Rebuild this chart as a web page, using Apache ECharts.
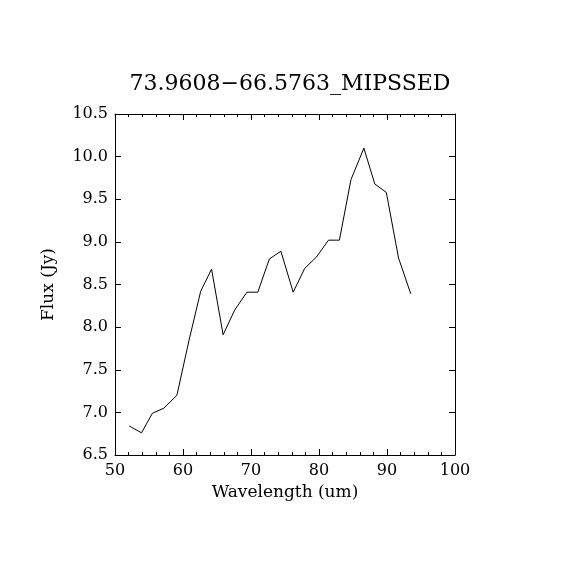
<!DOCTYPE html>
<html><head><meta charset="utf-8">
<script src="https://cdn.jsdelivr.net/npm/echarts@6/dist/echarts.min.js"></script>
<style>html,body{margin:0;padding:0;background:#fff}#c{width:570px;height:570px}</style>
</head><body><div id="c"></div>
<script>
var titleText = '73.9608\u221266.5763_MIPSSED';
var wavelength = [52.1, 53.9, 55.5, 57.2, 59.1, 60.9, 62.6, 64.2, 65.9, 67.6, 69.4, 71.0, 72.7, 74.4, 76.2, 77.9, 79.6, 81.4, 83.0, 84.7, 86.6, 88.2, 89.9, 91.7, 93.5];
var flux = [6.84, 6.76, 6.99, 7.05, 7.20, 7.85, 8.42, 8.68, 7.91, 8.20, 8.41, 8.41, 8.80, 8.89, 8.41, 8.69, 8.82, 9.02, 9.02, 9.73, 10.10, 9.68, 9.58, 8.81, 8.39];

var font = 'DejaVu Serif';
var chart = echarts.init(document.getElementById('c'), null, {renderer: 'canvas'});
var axLine = {show: true, lineStyle: {color: '#000', width: 1}};
function xAx(pos, showLabel) {
  return {
    type: 'value', position: pos, min: 50, max: 100, interval: 10,
    axisLine: axLine,
    axisTick: {show: true, inside: true, length: 6, lineStyle: {color: '#000'}},
    minorTick: {show: true, splitNumber: 5, length: 3, lineStyle: {color: '#000'}},
    splitLine: {show: false},
    axisLabel: {show: showLabel, color: '#000', fontFamily: font, fontSize: 16, margin: 8},
    name: showLabel ? 'Wavelength (um)' : '', nameLocation: 'middle', nameGap: 29,
    nameTextStyle: {color: '#000', fontFamily: font, fontSize: 17}
  };
}
function yAx(pos, showLabel) {
  return {
    type: 'value', position: pos, min: 6.5, max: 10.5, interval: 0.5,
    axisLine: axLine,
    axisTick: {show: true, inside: true, length: 6, lineStyle: {color: '#000'}},
    minorTick: {show: false},
    splitLine: {show: false},
    axisLabel: {show: showLabel, color: '#000', fontFamily: font, fontSize: 16, margin: 7,
      formatter: function (v) { return v.toFixed(1); }},
    name: showLabel ? 'Flux (Jy)' : '', nameLocation: 'middle', nameGap: 58,
    nameTextStyle: {color: '#000', fontFamily: font, fontSize: 17}
  };
}
var data = wavelength.map(function (w, i) { return [w, flux[i]]; });
chart.setOption({
  backgroundColor: '#fff',
  animation: false,
  title: {text: titleText, left: 285, top: 68, textAlign: 'center',
    textStyle: {color: '#000', fontFamily: font, fontSize: 22, fontWeight: 'normal'}},
  grid: {left: 115, top: 114, right: 115, bottom: 115},
  xAxis: [xAx('bottom', true), xAx('top', false)],
  yAxis: [yAx('left', true), yAx('right', false)],
  series: [{type: 'line', data: data, xAxisIndex: 0, yAxisIndex: 0, symbol: 'none',
    lineStyle: {color: '#000', width: 1}}]
});
</script></body></html>
